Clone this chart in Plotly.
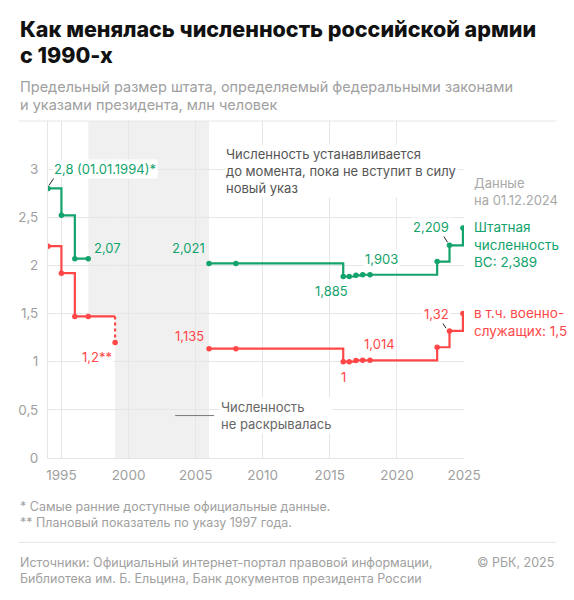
import plotly.graph_objects as go

# ---------------- data ----------------
years_early = [1994.0, 1995.0, 1996.0, 1997.0]
staff_early = [2.8, 2.52, 2.07, 2.07]
military_early = [2.2, 1.92, 1.47, 1.47]

plan_year = 1999.0          # military line continues to this year, then planned value
military_plan = 1.2

years_late = [2006.0, 2008.0, 2016.0, 2016.45, 2016.95, 2017.45, 2018.0, 2023.0, 2023.92, 2024.92]
staff_late = [2.021, 2.021, 1.885, 1.885, 1.897, 1.903, 1.903, 2.04, 2.209, 2.389]
military_late = [1.135, 1.135, 1.0, 1.0, 1.013, 1.014, 1.014, 1.15, 1.32, 1.5]

gap_start = 1997.0
gap_end = 2006.0

x_ticks = [1995, 2000, 2005, 2010, 2015, 2020, 2025]
y_ticks = [0, 0.5, 1, 1.5, 2, 2.5, 3, 3.5]
y_tick_text = ["0", "0,5", "1", "1,5", "2", "2,5", "3", ""]

GREEN = "#13a36c"
RED = "#ff4747"
GRID = "#e6e6e6"
FONT = "Inter"

W, H = 574, 600
L, R, T, B = 47.5, 464.5, 121, 458.5


def P(x, y):
    return (x - L) / (R - L), (B - y) / (B - T)


fig = go.Figure()

# staff lines
fig.add_trace(go.Scatter(x=years_early, y=staff_early, mode="lines+markers",
                         line=dict(color=GREEN, width=2.2, shape="hv"),
                         marker=dict(size=5.5, color=GREEN), hoverinfo="skip"))
fig.add_trace(go.Scatter(x=years_late, y=staff_late, mode="lines+markers",
                         line=dict(color=GREEN, width=2.2, shape="hv"),
                         marker=dict(size=5.5, color=GREEN), hoverinfo="skip"))
# military lines
fig.add_trace(go.Scatter(x=years_early + [plan_year], y=military_early + [military_early[-1]],
                         mode="lines", line=dict(color=RED, width=2.2, shape="hv"), hoverinfo="skip"))
fig.add_trace(go.Scatter(x=years_early, y=military_early, mode="markers",
                         marker=dict(size=5.5, color=RED), hoverinfo="skip"))
fig.add_trace(go.Scatter(x=[plan_year, plan_year], y=[military_early[-1], military_plan],
                         mode="lines", line=dict(color=RED, width=2.2, dash="dot"), hoverinfo="skip"))
fig.add_trace(go.Scatter(x=[plan_year], y=[military_plan], mode="markers",
                         marker=dict(size=5.5, color=RED), hoverinfo="skip"))
fig.add_trace(go.Scatter(x=years_late, y=military_late, mode="lines+markers",
                         line=dict(color=RED, width=2.2, shape="hv"),
                         marker=dict(size=5.5, color=RED), hoverinfo="skip"))

shapes = [
    dict(type="rect", xref="x", yref="y", x0=gap_start, x1=plan_year, y0=military_early[-1], y1=3.5,
         fillcolor="#f0f0f0", line=dict(width=0), layer="below"),
    dict(type="rect", xref="x", yref="y", x0=plan_year, x1=gap_end, y0=0, y1=3.5,
         fillcolor="#f0f0f0", line=dict(width=0), layer="below"),
]


def seg(x0, y0, x1, y1, color="#222", width=1):
    a = P(x0, y0)
    b = P(x1, y1)
    shapes.append(dict(type="line", xref="paper", yref="paper", x0=a[0], y0=a[1], x1=b[0], y1=b[1],
                       line=dict(color=color, width=width)))


seg(18, 121, 557, 121, GRID, 1)       # top rule
seg(18, 543, 557, 543, GRID, 1)       # footer rule
seg(48.5, 185.5, 53.5, 178, "#222", 1)
seg(444, 236, 448, 242.5, "#222", 1)
seg(442.5, 322.5, 446.5, 328.5, "#222", 1)
seg(175, 416, 214, 416, "#777", 1)

annotations = []


def txt(x, y, text, color, size=13, xanchor="left", bg=None, weight=None, yanchor="middle"):
    px, py = P(x, y)
    f = dict(family=FONT, size=size, color=color)
    if weight:
        f["weight"] = weight
    d = dict(xref="paper", yref="paper", x=px, y=py, text=text, showarrow=False,
             xanchor=xanchor, yanchor=yanchor, align="left" if xanchor == "left" else "center",
             font=f, borderpad=1)
    if bg:
        d["bgcolor"] = bg
    annotations.append(d)


# titles
txt(17, 29, "Как менялась численность российской армии", "#111", 21.5, weight=800)
txt(17, 55, "с 1990-х", "#111", 21.5, weight=800)
txt(17, 86, "Предельный размер штата, определяемый федеральными законами", "#a0a0a0", 14.5)
txt(17, 104, "и указами президента, млн человек", "#a0a0a0", 14.5)

# data labels
txt(52, 169, "2,8 (01.01.1994)*", GREEN, 13, bg="white")
txt(92, 248, "2,07", GREEN, 13)
txt(188, 248.5, "2,021", GREEN, 13, xanchor="center")
txt(332, 291, "1,885", GREEN, 13, xanchor="center")
txt(382, 259.5, "1,903", GREEN, 13, xanchor="center", bg="white")
txt(431, 227.5, "2,209", GREEN, 13, xanchor="center", bg="white")
txt(472.5, 245, "Штатная<br>численность<br>ВС: 2,389", GREEN, 13.5)

txt(97, 357, "1,2**", RED, 13, xanchor="center", bg="white")
txt(189, 336, "1,135", RED, 13, xanchor="center")
txt(344, 377, "1", RED, 13, xanchor="center")
txt(380, 344.5, "1,014", RED, 13, xanchor="center")
txt(437, 314, "1,32", RED, 13, xanchor="center", bg="white")
txt(472.5, 322, "в т.ч. военно-<br>служащих: 1,5", RED, 13.5)

# notes
txt(224, 171.5, "Численность устанавливается<br>до момента, пока не вступит в силу<br>новый указ", "#555", 13, bg="white")
txt(472.5, 192, "Данные<br>на 01.12.2024", "#a8a8a8", 13)
txt(219, 415.5, "Численность<br>не раскрывалась", "#666", 13, bg="white")

# footnotes
txt(17, 507, "* Самые ранние доступные официальные данные.", "#a0a0a0", 12.5)
txt(17, 523, "** Плановый показатель по указу 1997 года.", "#a0a0a0", 12.5)
txt(17, 563.5, "Источники: Официальный интернет-портал правовой информации,", "#a0a0a0", 12.5)
txt(17, 579.5, "Библиотека им. Б. Ельцина, Банк документов президента России", "#a0a0a0", 12.5)
txt(557, 563.5, "© РБК, 2025", "#a0a0a0", 12.5, xanchor="right")

fig.update_layout(
    width=W, height=H,
    margin=dict(l=L, r=W - R, t=T, b=H - B, pad=0),
    paper_bgcolor="white", plot_bgcolor="white",
    showlegend=False,
    shapes=shapes, annotations=annotations,
    font=dict(family=FONT, size=13, color="#a0a0a0"),
    xaxis=dict(range=[1994, 2025], tickvals=x_ticks, ticktext=[str(v) for v in x_ticks],
               showgrid=True, gridcolor=GRID, gridwidth=1, zeroline=False,
               showline=True, linecolor=GRID, linewidth=1, ticks="", ticklabelstandoff=5,
               tickfont=dict(family=FONT, size=13.5, color="#a0a0a0"), fixedrange=True),
    yaxis=dict(range=[0, 3.5], tickvals=y_ticks, ticktext=y_tick_text,
               showgrid=True, gridcolor=GRID, gridwidth=1, zeroline=False,
               showline=True, linecolor=GRID, linewidth=1, ticks="", ticklabelstandoff=6,
               tickfont=dict(family=FONT, size=13.5, color="#a0a0a0"), fixedrange=True),
)

fig.write_html("out.html", config={"displayModeBar": False},
               post_script="document.body.style.margin='0';document.body.style.overflow='hidden';")
